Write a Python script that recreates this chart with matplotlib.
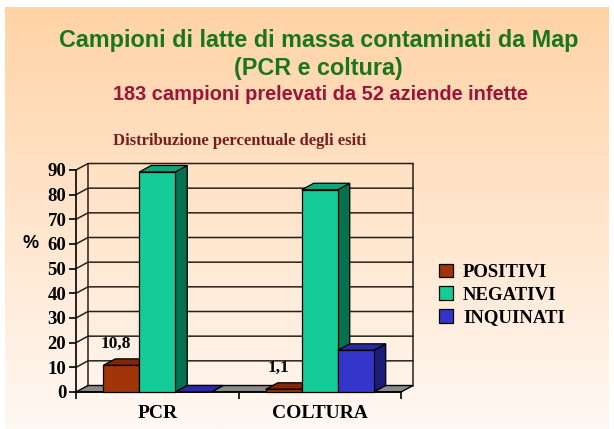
import numpy as np
import matplotlib
matplotlib.use("Agg")
import matplotlib.pyplot as plt
from matplotlib.patches import Polygon, Patch

# ---- data ----
categories = ["PCR", "COLTURA"]
series_names = ["POSITIVI", "NEGATIVI", "INQUINATI"]
positivi = [10.8, 1.1]
negativi = [89.2, 82.0]
inquinati = [0.0, 16.9]
y_ticks = [0, 10, 20, 30, 40, 50, 60, 70, 80, 90]

front_colors = ["#A0350A", "#14CC98", "#3535CC"]
top_colors = ["#7A2805", "#0EA57A", "#2A2AA0"]
side_colors = ["#5E1E03", "#06704F", "#1C1C78"]

W, H = 614, 429
fig = plt.figure(figsize=(W / 100, H / 100), dpi=100)
fig.patch.set_facecolor("white")

# background gradient panel
bg = fig.add_axes([5 / W, 0, 604 / W, 422 / H])
bg.set_axis_off()
top = np.array([255, 211, 166]) / 255
bot = np.array([255, 248, 243]) / 255
t = np.linspace(0, 1, 256)[:, None]
grad = (top[None, :] * (1 - t) + bot[None, :] * t)[:, None, :]
bg.imshow(grad, aspect="auto", extent=[0, 1, 0, 1])
bg.set_zorder(-10)

serif = "Liberation Serif"
sans = "Liberation Sans"

# titles
fig.text(319 / W, 1 - 40 / H, "Campioni di latte di massa contaminati da Map",
         ha="center", va="center", fontsize=16.8, fontweight="bold",
         color="#1A761A", family=sans)
fig.text(318 / W, 1 - 68 / H, "(PCR e coltura)",
         ha="center", va="center", fontsize=16.8, fontweight="bold",
         color="#1A761A", family=sans)
fig.text(320 / W, 1 - 94 / H, "183 campioni prelevati da 52 aziende infette",
         ha="center", va="center", fontsize=14.4, fontweight="bold",
         color="#9C1438", family=sans)
fig.text(240 / W, 1 - 141 / H, "Distribuzione percentuale degli esiti",
         ha="center", va="center", fontsize=12, fontweight="bold",
         color="#7A1C1C", family=serif)
fig.text(31 / W, 1 - 243 / H, "%", ha="center", va="center", fontsize=13,
         fontweight="bold", color="black", family=sans)

# main axes = front plane
ax = fig.add_axes([76 / W, 37 / H, 325 / W, 222 / H])
ax.set_facecolor("none")
ax.set_xlim(0, 2)
ax.set_ylim(0, 90)
for s in ["top", "right"]:
    ax.spines[s].set_visible(False)
ax.spines["left"].set_linewidth(1.2)
ax.spines["left"].set_bounds(0, 90)

dx = 12 / 325 * 2
dy = 6.5 / 222 * 90
ncat = len(categories)

# walls / gridlines
grid_c = "#2a1f18"
for v in y_ticks[1:]:
    ax.plot([0, dx, ncat + dx], [v, v + dy, v + dy], color=grid_c, lw=1.1,
            clip_on=False, zorder=1)
ax.plot([dx, dx], [dy, 90 + dy], color=grid_c, lw=1.1, clip_on=False, zorder=1)
ax.plot([ncat + dx, ncat + dx], [dy, 90 + dy], color=grid_c, lw=1.1,
        clip_on=False, zorder=1)
floor = Polygon([(0, 0), (ncat, 0), (ncat + dx, dy), (dx, dy)], closed=True,
                facecolor="#8a8a8a", edgecolor="black", lw=1, clip_on=False,
                zorder=2)
ax.add_patch(floor)

# bars
w = 0.2215
series = [positivi, negativi, inquinati]
offsets = [-w, 0, w]
z = 3
for ci in range(ncat):
    for si, vals in enumerate(series):
        h = vals[ci]
        xc = ci + 0.5 + offsets[si]
        x0, x1 = xc - w / 2, xc + w / 2
        side = Polygon([(x1, 0), (x1 + dx, dy), (x1 + dx, h + dy), (x1, h)],
                       closed=True, facecolor=side_colors[si],
                       edgecolor="black", lw=0.9, clip_on=False, zorder=z)
        topf = Polygon([(x0, h), (x1, h), (x1 + dx, h + dy), (x0 + dx, h + dy)],
                       closed=True, facecolor=top_colors[si],
                       edgecolor="black", lw=0.9, clip_on=False, zorder=z)
        ax.add_patch(side)
        ax.add_patch(topf)
        if h > 0:
            ax.bar(xc, h, width=w, color=front_colors[si], edgecolor="black",
                   linewidth=0.9, zorder=z + 0.5, clip_on=False)
        z += 1

# value labels for POSITIVI
for ci, v in enumerate(positivi):
    xc = ci + 0.5 + offsets[0]
    ax.annotate(f"{v:.1f}".replace(".", ","), (xc, v + dy),
                xytext=(-4, 5), textcoords="offset points", ha="center",
                va="bottom", fontsize=12.5, fontweight="bold", family=serif,
                color="black", zorder=20)

# ticks
ax.set_yticks(y_ticks)
ax.set_yticklabels([str(v) for v in y_ticks], fontsize=13.5,
                   fontweight="bold", family=serif)
ax.tick_params(axis="y", direction="out", length=5, width=1.2, pad=2)
ax.set_xticks(range(ncat + 1))
ax.set_xticklabels([])
ax.tick_params(axis="x", which="major", direction="out", length=5, width=1.2)
ax.set_xticks([i + 0.5 for i in range(ncat)], minor=True)
ax.set_xticklabels(categories, minor=True, fontsize=14, fontweight="bold",
                   family=serif)
ax.tick_params(axis="x", which="minor", length=0, pad=9)
ax.spines["bottom"].set_linewidth(1.2)

# legend
handles = [Patch(facecolor=front_colors[i], edgecolor="black", lw=0.9,
                 label=series_names[i]) for i in range(3)]
leg = fig.legend(handles=handles, loc="upper left",
                 bbox_to_anchor=(433 / W, 1 - 258 / H), frameon=True,
                 fancybox=False, edgecolor="black", framealpha=0,
                 prop={"family": serif, "weight": "bold", "size": 13.5},
                 handlelength=0.75, handleheight=0.75, handletextpad=0.55,
                 labelspacing=0.28, borderpad=0.3, borderaxespad=0)
leg.get_frame().set_linewidth(1.0)

fig.savefig("out.png", dpi=100)
